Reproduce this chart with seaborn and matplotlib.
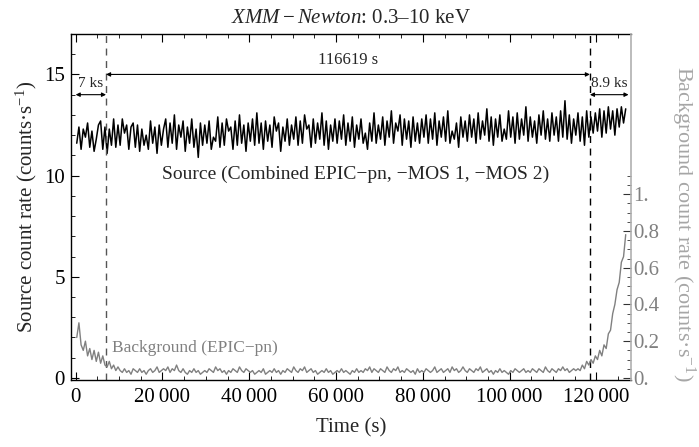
"""XMM-Newton light curve: source and background count rates."""
import numpy as np
import matplotlib
matplotlib.use("Agg")
import matplotlib.pyplot as plt
import seaborn as sns
from matplotlib.ticker import MultipleLocator, FixedLocator, FuncFormatter

# light curve binning (s)
BIN_START = 250
BIN_SIZE = 500

# source rate, counts/s, one value per 500 s bin
source_rate = [
    11.6, 12.4, 11.3, 12.3, 11.9, 12.6, 11.4, 12.2, 11.2, 11.8, 12.5, 12.7, 11.3, 12.4, 11.1, 12.3, 11.5, 12.8, 11.4, 12.5,
    11.5, 12.8, 12.1, 12.5, 11.3, 12.4, 12.6, 11.4, 12.5, 11.2, 12.3, 11.5, 12.0, 11.3, 12.7, 11.6, 12.4, 11.1, 12.5, 11.5,
    12.3, 12.8, 11.4, 12.6, 11.6, 13.0, 11.3, 12.5, 11.9, 12.7, 11.2, 12.4, 11.6, 12.8, 11.4, 12.3, 10.9, 12.6, 11.5, 12.5,
    11.6, 12.7, 11.3, 11.9, 11.7, 12.9, 11.4, 12.6, 11.5, 12.8, 12.2, 12.4, 11.3, 12.7, 11.5, 13.0, 11.6, 12.5, 11.2, 12.6,
    11.7, 12.8, 11.5, 13.1, 11.6, 12.6, 11.3, 12.7, 11.7, 12.5, 11.4, 12.9, 12.2, 12.6, 11.2, 12.4, 11.7, 12.8, 11.5, 12.5,
    11.8, 12.9, 11.5, 12.7, 11.6, 13.0, 12.3, 12.5, 11.4, 12.8, 11.6, 12.6, 11.8, 13.1, 11.5, 12.7, 11.3, 12.5, 11.7, 12.8,
    11.6, 12.7, 11.8, 13.0, 11.5, 12.6, 11.7, 12.9, 11.4, 12.5, 11.8, 12.8, 11.6, 12.1, 11.3, 12.6, 11.7, 13.1, 11.6, 12.5,
    11.8, 12.9, 11.5, 12.7, 11.9, 13.2, 11.6, 12.6, 12.2, 13.0, 11.5, 12.8, 11.8, 12.7, 11.4, 12.9, 11.7, 12.6, 11.6, 12.8,
    11.9, 13.0, 11.6, 12.8, 11.8, 13.1, 11.5, 12.7, 11.9, 12.9, 11.7, 13.2, 11.6, 12.2, 11.8, 12.6, 11.4, 12.9, 11.9, 12.7,
    11.7, 13.0, 11.9, 12.8, 11.6, 13.1, 11.8, 12.7, 12.0, 13.3, 11.7, 12.9, 11.5, 12.8, 11.9, 13.0, 11.7, 12.3, 11.8, 13.2,
    11.9, 12.9, 11.6, 13.1, 11.8, 12.8, 12.0, 13.4, 11.7, 12.9, 11.9, 12.7, 11.6, 13.0, 12.0, 13.2, 11.8, 12.8, 11.7, 13.1,
    12.0, 12.9, 11.7, 13.2, 11.9, 13.7, 11.8, 13.0, 11.6, 12.8, 12.0, 13.1, 11.7, 12.9, 11.5, 13.2, 11.9, 12.9, 12.1, 13.1,
    12.2, 13.3, 11.9, 13.2, 12.1, 13.4, 12.3, 13.2, 12.0, 13.3, 12.4, 13.4, 12.6, 13.3,
]

# background rate (EPIC-pn), counts/s, same bins
background_rate = [
    0.22, 0.30, 0.18, 0.15, 0.20, 0.12, 0.16, 0.10, 0.15, 0.09, 0.14, 0.08, 0.12, 0.07,
    0.06, 0.09, 0.05, 0.07, 0.04, 0.06,
    0.04, 0.03, 0.05, 0.03, 0.04, 0.02, 0.05, 0.04, 0.03, 0.05,
    0.03, 0.04, 0.02, 0.04, 0.05, 0.03, 0.04, 0.06, 0.03, 0.04,
    0.05, 0.04, 0.06, 0.03, 0.05, 0.04, 0.07, 0.04, 0.03, 0.05,
    0.03, 0.02, 0.04, 0.03, 0.05, 0.03, 0.04, 0.02, 0.03, 0.04,
    0.03, 0.05, 0.04, 0.03, 0.06, 0.04, 0.05, 0.03, 0.04, 0.02,
    0.04, 0.03, 0.05, 0.04, 0.03, 0.06, 0.04, 0.03, 0.05, 0.04,
    0.03, 0.04, 0.02, 0.03, 0.04, 0.03, 0.05, 0.02, 0.03, 0.04,
    0.03, 0.05, 0.03, 0.04, 0.02, 0.04, 0.03, 0.05, 0.04, 0.03,
    0.06, 0.04, 0.03, 0.05, 0.04, 0.06, 0.03, 0.04, 0.05, 0.03,
    0.04, 0.02, 0.03, 0.04, 0.03, 0.05, 0.03, 0.04, 0.02, 0.03,
    0.04, 0.03, 0.05, 0.03, 0.04, 0.03, 0.02, 0.04, 0.03, 0.05,
    0.03, 0.04, 0.03, 0.05, 0.04, 0.06, 0.03, 0.05, 0.04, 0.03,
    0.05, 0.04, 0.03, 0.06, 0.04, 0.03, 0.05, 0.04, 0.06, 0.03,
    0.04, 0.03, 0.05, 0.04, 0.03, 0.04, 0.02, 0.05, 0.03, 0.04,
    0.03, 0.05, 0.04, 0.03, 0.04, 0.06, 0.03, 0.04, 0.05, 0.03,
    0.04, 0.05, 0.03, 0.06, 0.04, 0.05, 0.03, 0.04, 0.06, 0.04,
    0.03, 0.05, 0.04, 0.03, 0.05, 0.04, 0.06, 0.03, 0.04, 0.05,
    0.03, 0.04, 0.02, 0.04, 0.03, 0.05, 0.03, 0.04, 0.03, 0.02,
    0.04, 0.03, 0.05, 0.04, 0.03, 0.04, 0.05, 0.03, 0.04, 0.03,
    0.05, 0.04, 0.03, 0.05, 0.04, 0.03, 0.06, 0.04, 0.03, 0.05,
    0.04, 0.03, 0.05, 0.04, 0.06, 0.04, 0.05, 0.03, 0.04, 0.05,
    0.04, 0.05, 0.04, 0.07, 0.05, 0.09, 0.07, 0.10, 0.08, 0.12, 0.10, 0.15,
    0.12, 0.18, 0.16, 0.24, 0.26, 0.35, 0.40, 0.48, 0.52, 0.63, 0.66, 0.78,
]

# exposure segments (s)
flare_start = 7000
flare_end = 118500
obs_end = 127400
seg_labels = ["7 ks", "116619 s", "8.9 ks"]

x_ticks = [0, 20000, 40000, 60000, 80000, 100000, 120000]
src_ticks = [0, 5, 10, 15]
bkg_ticks = [0.0, 0.2, 0.4, 0.6, 0.8, 1.0]

SRC_LIM = (-0.1, 17.0)
BKG_SCALE = 9.08  # source units per background unit
GRAY = "#808080"

time = BIN_START + BIN_SIZE * np.arange(len(source_rate))

sns.set_theme(style="ticks")
plt.rcParams["font.family"] = ["Liberation Serif", "DejaVu Serif"]
plt.rcParams["mathtext.fontset"] = "custom"
plt.rcParams["mathtext.rm"] = "Liberation Serif"
plt.rcParams["mathtext.it"] = "Liberation Serif:italic"

fig = plt.figure(figsize=(6.99, 4.47), dpi=100)
ax = fig.add_axes([0.1011, 0.150, 0.8012, 0.774])
ax2 = ax.twinx()

sns.lineplot(x=time, y=source_rate, ax=ax, color="black", lw=1.1)
sns.lineplot(x=time, y=background_rate, ax=ax2, color=GRAY, lw=1.0)

ax.set_xlim(-1150, 127900)
ax.set_ylim(*SRC_LIM)
ax2.set_ylim(SRC_LIM[0] / BKG_SCALE, SRC_LIM[1] / BKG_SCALE)

# vertical segment markers
ax.axvline(flare_start, color="#555555", ls=(0, (5, 4)), lw=1.0)
ax.axvline(flare_end, color="black", ls=(0, (5, 4)), lw=1.0)

arrow = dict(arrowstyle="<|-|>", lw=0.8, color="black", mutation_scale=6,
             shrinkA=0, shrinkB=0)
ax.annotate("", xy=(0, 14.0), xytext=(flare_start, 14.0), arrowprops=arrow)
ax.annotate("", xy=(flare_start, 15.0), xytext=(flare_end, 15.0), arrowprops=arrow)
ax.annotate("", xy=(flare_end, 14.0), xytext=(obs_end, 14.0), arrowprops=arrow)
ax.text(flare_start / 2, 14.25, seg_labels[0], ha="center", va="bottom", fontsize=11)
ax.text((flare_start + flare_end) / 2, 15.3, seg_labels[1], ha="center", va="bottom", fontsize=12)
ax.text((flare_end + obs_end) / 2, 14.25, seg_labels[2], ha="center", va="bottom", fontsize=11)

ax.text(64500, 10.05, "Source (Combined EPIC\u2212pn, \u2212MOS 1, \u2212MOS 2)",
        ha="center", va="center", fontsize=14)
ax.text(8400, 1.5, "Background (EPIC\u2212pn)", ha="left", va="center",
        fontsize=12.5, color=GRAY)

# ticks
ax.xaxis.set_major_locator(FixedLocator(x_ticks))
ax.xaxis.set_minor_locator(MultipleLocator(5000))
ax.xaxis.set_major_formatter(FuncFormatter(
    lambda v, p: f"{int(v):,}".replace(",", "\u2009")))
ax.yaxis.set_major_locator(FixedLocator(src_ticks))
ax.yaxis.set_minor_locator(MultipleLocator(1))
ax.tick_params(axis="both", which="both", direction="in", top=True,
               labelsize=15, colors="black")
ax.tick_params(which="major", length=6, width=0.8)
ax.tick_params(which="minor", length=3, width=0.6)
ax.tick_params(axis="x", pad=6)
ax.tick_params(axis="y", right=False, pad=4)

ax2.yaxis.set_major_locator(FixedLocator(bkg_ticks))
ax2.yaxis.set_minor_locator(FixedLocator(np.arange(0, 1.11, 0.05)))
ax2.yaxis.set_major_formatter(FuncFormatter(
    lambda v, p: "0." if v == 0 else ("1." if v == 1 else f"{v:.1f}")))
ax2.tick_params(axis="y", which="both", direction="in", labelsize=15,
                labelcolor=GRAY, color="#333333", pad=2)
ax2.tick_params(which="major", length=6, width=0.8)
ax2.tick_params(which="minor", length=3, width=0.6)

for side in ["left", "bottom", "top"]:
    ax.spines[side].set_linewidth(1.0)
    ax.spines[side].set_color("black")
for side in ["left", "bottom", "top"]:
    ax2.spines[side].set_visible(False)
ax2.spines["right"].set_color("#b0b0b0")
ax2.spines["right"].set_linewidth(1.2)
ax.spines["right"].set_visible(False)

ax.set_xlabel("Time (s)", fontsize=15, labelpad=8)
ax.set_ylabel("Source count rate (counts\u00b7s$^{-1}$)", fontsize=15, labelpad=4)
ax2.set_ylabel("Background count rate (counts\u00b7s$^{-1}$)", fontsize=16,
               color="#a6a6a6", rotation=270, va="center")
ax2.yaxis.set_label_coords(1.093, 0.45)
ax.set_title("$XMM-Newton$: 0.3\u201310 keV", fontsize=15, pad=8)

fig.savefig("out.png", dpi=100)
